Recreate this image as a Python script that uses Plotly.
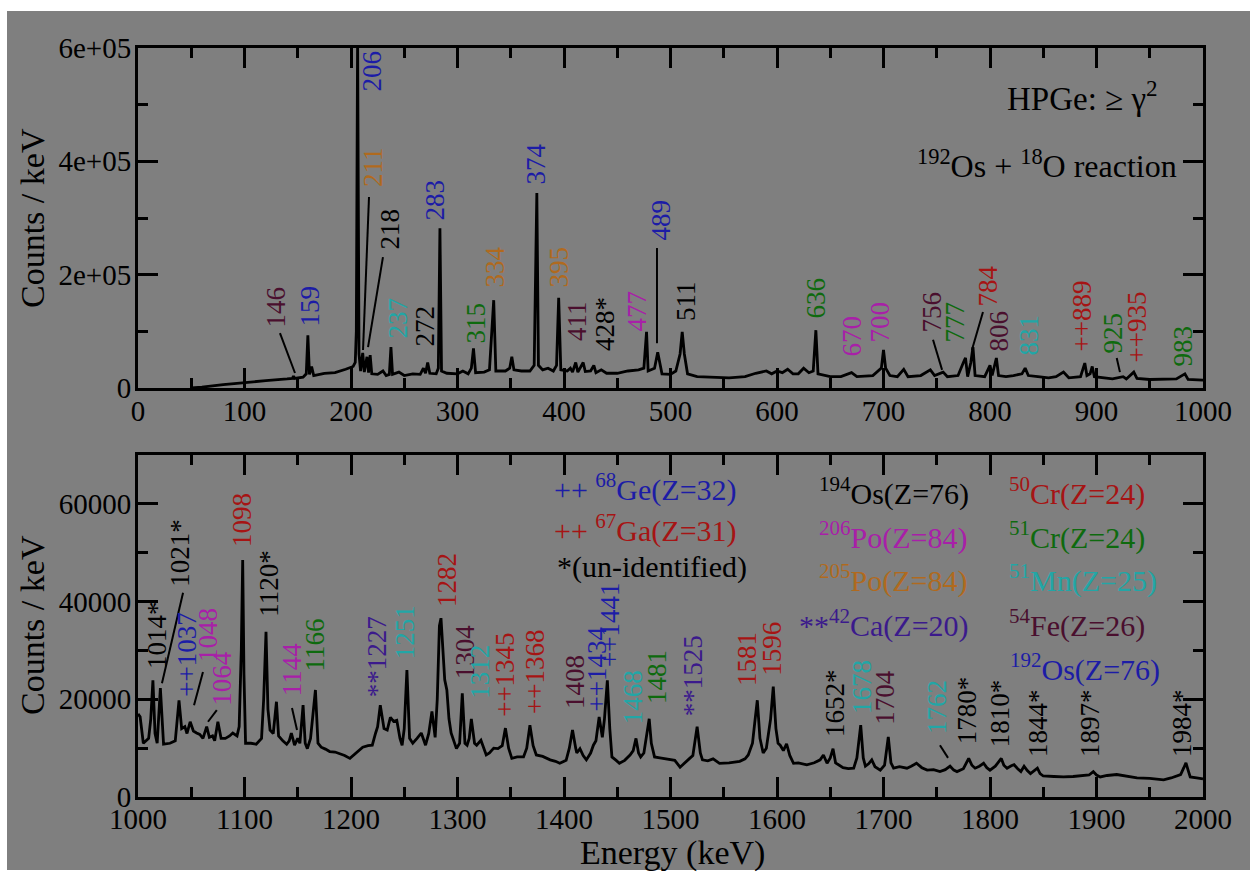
import plotly.graph_objects as go

# ---------------- data ----------------
# top panel spectrum (Energy keV, Counts/keV)
top_E = [50, 60, 80, 100, 120, 140, 145, 146, 147, 155, 158, 159.5, 161, 163, 165, 175, 185, 195, 202, 204, 205, 206.2, 207.5, 209, 211, 212.5, 215, 216.5, 218, 219.5, 225, 230, 233, 236, 237.5, 239, 245, 250, 258, 265, 268, 270, 272, 274, 280, 282, 283.5, 285, 290, 300, 305, 310, 313, 315, 317, 325, 330, 334, 336, 345, 349, 351, 353, 360, 368, 372, 374.5, 376, 380, 385, 390, 393, 395, 397, 403, 406, 408, 411, 413, 418, 420, 425, 428, 430, 435, 440, 450, 460, 470, 475, 477.5, 479, 485, 488, 490, 492, 500, 505, 509, 511, 513, 516, 525, 540, 555, 570, 580, 590, 595, 600, 605, 610, 615, 620, 625, 630, 634, 636.5, 638.5, 650, 660, 670, 675, 690, 698, 700, 702, 706, 713, 719, 723, 735, 744, 748, 752, 756, 760, 770, 775, 777, 779, 782, 784, 786, 795, 800, 802, 806, 808, 815, 822, 830, 833, 836, 845, 855, 862, 869, 874, 885, 889, 891, 894, 896, 898, 905, 915, 925, 928, 935, 938, 950, 965, 975, 983, 986, 1000]
top_C = [0, 1500, 6000, 10000, 13000, 16000, 17000, 21000, 17000, 19000, 25000, 93000, 24000, 38000, 22000, 26000, 27000, 33000, 38000, 45000, 100000, 620000, 60000, 30000, 62000, 28000, 55000, 27000, 58000, 25000, 24000, 30000, 22000, 24000, 72000, 24000, 28000, 22000, 25000, 24000, 35000, 26000, 45000, 26000, 25000, 35000, 282000, 30000, 26000, 25000, 30000, 25000, 35000, 70000, 27000, 28000, 32000, 155000, 30000, 30000, 35000, 55000, 32000, 30000, 30000, 40000, 344000, 40000, 32000, 35000, 30000, 40000, 159000, 32000, 30000, 35000, 28000, 45000, 28000, 45000, 29000, 30000, 40000, 27000, 32000, 26000, 26000, 30000, 32000, 35000, 99000, 30000, 35000, 63000, 45000, 25000, 24000, 30000, 60000, 99000, 60000, 25000, 20000, 19000, 18000, 20000, 26000, 30000, 25000, 30000, 27000, 33000, 25000, 25000, 35000, 27000, 30000, 102000, 25000, 20000, 20000, 27000, 20000, 22000, 35000, 67000, 35000, 22000, 20000, 33000, 20000, 22000, 32000, 22000, 25000, 28000, 20000, 22000, 45000, 53000, 20000, 45000, 72000, 22000, 20000, 40000, 22000, 53000, 22000, 20000, 22000, 25000, 35000, 22000, 20000, 18000, 20000, 28000, 18000, 20000, 44000, 22000, 25000, 38000, 20000, 18000, 16000, 20000, 16000, 28000, 17000, 15000, 15000, 16000, 25000, 15000, 14000]

# bottom panel spectrum
bot_E = [1000, 1002, 1005, 1010, 1012, 1014, 1016, 1018, 1021, 1024, 1030, 1035, 1038.5, 1041, 1044, 1046, 1049, 1052, 1055, 1058, 1061, 1064.5, 1067, 1070, 1072, 1075, 1078, 1082, 1086, 1089, 1093, 1095, 1097, 1098.3, 1099.5, 1101, 1106, 1111, 1116, 1118, 1120.2, 1122, 1124, 1127, 1130, 1132, 1136, 1139.6, 1142, 1144, 1147, 1150, 1152, 1155, 1157, 1159, 1162, 1166.6, 1169, 1172, 1176, 1180, 1185, 1189, 1194, 1199, 1204, 1211, 1216, 1220, 1223, 1225, 1227.5, 1231, 1234, 1237, 1240, 1243, 1246, 1248, 1250, 1252.5, 1255, 1258, 1262, 1266, 1270, 1273, 1276, 1279, 1281, 1283, 1284.5, 1286, 1288, 1290, 1292, 1294, 1297, 1299, 1302, 1304.5, 1307, 1309, 1311, 1313, 1316, 1318, 1322, 1325, 1327, 1330, 1334, 1338, 1342, 1345, 1348, 1351, 1356, 1362, 1365, 1368, 1371, 1374, 1380, 1387, 1392, 1396, 1402, 1405, 1408, 1411, 1412, 1415, 1418, 1421, 1425, 1427.6, 1430, 1433, 1436, 1438, 1440.7, 1443, 1445, 1449, 1452, 1457, 1462, 1465, 1467.6, 1470, 1472, 1475, 1477, 1480, 1482, 1485, 1490, 1495, 1499, 1504, 1509, 1514, 1518, 1521, 1525, 1528, 1530, 1535, 1540, 1546, 1555, 1565, 1570, 1573, 1577, 1579, 1581.5, 1584, 1587, 1590, 1594, 1596.5, 1599, 1601, 1603, 1606, 1609, 1612, 1615.5, 1620, 1628, 1635, 1640.5, 1643.6, 1647, 1650, 1652.6, 1655, 1658, 1662, 1667, 1672, 1675, 1678.6, 1681, 1683, 1686, 1689, 1692, 1697, 1701, 1704.5, 1707, 1709.5, 1715, 1722, 1726, 1731, 1736, 1741, 1747, 1753, 1758, 1762.5, 1766, 1769, 1775, 1780, 1783, 1786, 1790, 1794, 1797, 1800, 1805, 1810.6, 1813, 1816, 1820, 1822.6, 1826, 1829, 1832, 1835, 1838, 1841, 1844.5, 1847, 1850, 1860, 1869, 1878, 1888, 1893, 1897, 1900, 1903.5, 1910, 1919, 1928, 1938, 1950, 1963, 1970, 1975, 1979, 1982, 1984, 1986, 1988, 1994, 1999, 2000]
bot_C = [17000, 16400, 11000, 12000, 16000, 23900, 13000, 11000, 22300, 10800, 11000, 11500, 19800, 14000, 14400, 13000, 15400, 13500, 13100, 12800, 12000, 14400, 12200, 12500, 11500, 15400, 12000, 12000, 12500, 13100, 12500, 14400, 30000, 48500, 25000, 11000, 11000, 10800, 12000, 20000, 33800, 18000, 13700, 13000, 19500, 12500, 11500, 10800, 11500, 13100, 10600, 12000, 11000, 18800, 11000, 9900, 12000, 21900, 11000, 10200, 9800, 9300, 9200, 8900, 8500, 7900, 8800, 10200, 10500, 10600, 13000, 14400, 18800, 14000, 13700, 16300, 15500, 15700, 12000, 10600, 14000, 26000, 12000, 11000, 12000, 13100, 10600, 13000, 17500, 12200, 20000, 35000, 36600, 30000, 24000, 21900, 16000, 13100, 11000, 9900, 11000, 21200, 11000, 10600, 12000, 16000, 11000, 10600, 11600, 10000, 8600, 9000, 10000, 9900, 10500, 14100, 10000, 7900, 8200, 8200, 10000, 14700, 10500, 8600, 8300, 7600, 7300, 6900, 7500, 10000, 13700, 10000, 9000, 9900, 8500, 7600, 9000, 10600, 11500, 16400, 12200, 16000, 23900, 14000, 8200, 7500, 6900, 7500, 8600, 9500, 12000, 9000, 8200, 9000, 12000, 16000, 11000, 8200, 8000, 7800, 7600, 7500, 6100, 7200, 7900, 8500, 14400, 9000, 7600, 7400, 7800, 6900, 7000, 7300, 7800, 8600, 11000, 15000, 19800, 12000, 9000, 10000, 16000, 22600, 14000, 11000, 10600, 9500, 10900, 8500, 6900, 7000, 6600, 7000, 7600, 8600, 6900, 8000, 9900, 7000, 6600, 6000, 5800, 5900, 8000, 14700, 8000, 6300, 6800, 7600, 6200, 5500, 6500, 12300, 7000, 5900, 6200, 5900, 6300, 6900, 6000, 5500, 5600, 5200, 5600, 6300, 5500, 5200, 5800, 7900, 6500, 5900, 6300, 6900, 6000, 5500, 6300, 7900, 6500, 5900, 6400, 6600, 5800, 5200, 6300, 5400, 4800, 5300, 5900, 4800, 4300, 4200, 4100, 4200, 4300, 4500, 5200, 4500, 4100, 4400, 4600, 4200, 3900, 3800, 3500, 3900, 4300, 4600, 6000, 7000, 5500, 4100, 3900, 3700, 3700]

# tick labels
top_xticks = list(range(0, 1001, 100))
top_yticks = [0, 200000, 400000, 600000]
top_ytext = ["0", "2e+05", "4e+05", "6e+05"]
bot_xticks = list(range(1000, 2001, 100))
bot_yticks = [0, 20000, 40000, 60000]
bot_ytext = ["0", "20000", "40000", "60000"]

# peak labels: text, colour key, energy of label centre, counts at label bottom
top_lab_text = ["146", "159", "206", "211", "218", "237", "272", "283", "315", "334", "374", "395", "411", "428*", "477", "489", "511", "636", "670", "700", "756", "777", "784", "806", "831", "++889", "925", "++935", "983"]
top_lab_col = ["maroon", "blue", "blue", "orange", "black", "cyan", "black", "blue", "green", "orange", "blue", "orange", "maroon", "black", "magenta", "blue", "black", "green", "magenta", "magenta", "maroon", "green", "red", "maroon", "cyan", "red", "green", "red", "green"]
top_lab_E = [130.5, 161.5, 219.7, 220.7, 236.6, 243.2, 269.5, 278.9, 317.4, 334.3, 373.7, 395.3, 412.2, 438.5, 468.5, 491.1, 514.6, 635.7, 670.4, 696.7, 745.5, 767.1, 799.0, 808.5, 835.7, 886.4, 915.5, 938.0, 981.2]
top_lab_C = [105900, 105900, 522400, 353000, 243600, 84700, 70600, 293000, 75900, 174700, 358300, 176500, 81200, 63500, 98800, 257700, 116500, 120000, 54700, 79400, 97000, 79400, 143000, 61800, 54700, 61800, 58200, 44100, 37000]

bot_lab_text = ["1014*", "1021*", "++1037", "1048", "1064", "1098", "1120*", "1144", "1166", "**1227", "1251", "1282", "1304", "1312", "++1345", "++1368", "1408", "++1434", "++1441", "1468", "1481", "**1525", "1581", "1596", "1652*", "1678", "1704", "1762", "1780*", "1810*", "1844*", "1897*", "1984*"]
bot_lab_col = ["black", "black", "blue", "magenta", "magenta", "red", "black", "magenta", "green", "violet", "cyan", "red", "maroon", "cyan", "red", "red", "maroon", "blue", "blue", "cyan", "green", "violet", "red", "red", "black", "cyan", "maroon", "cyan", "black", "black", "black", "black", "black"]
bot_lab_E = [1017.8, 1039.4, 1046.0, 1065.7, 1078.9, 1097.7, 1123.0, 1144.6, 1166.2, 1224.4, 1250.7, 1290.1, 1307.0, 1321.1, 1344.6, 1372.8, 1410.3, 1431.0, 1443.2, 1464.8, 1487.3, 1521.1, 1571.8, 1595.3, 1654.5, 1679.8, 1701.4, 1750.2, 1778.4, 1809.4, 1845.1, 1893.9, 1980.3]
bot_lab_C = [26000, 42800, 20300, 27400, 18400, 51000, 36800, 20300, 25400, 20300, 28000, 38700, 24000, 19900, 16200, 16800, 17800, 17200, 26400, 14700, 18800, 16400, 22500, 24600, 12100, 16800, 14700, 12700, 10600, 10000, 8000, 8000, 8000]

# leader lines (E0, C0, E1, C1)
top_leaders = [(133.3, 97000, 147.4, 26500), (216.9, 337000, 211.3, 67000), (230.0, 231000, 216.0, 72000),
               (487.3, 247000, 487.3, 79000), (746.5, 85000, 755.0, 32000), (793.4, 134000, 783.0, 67000),
               (919.0, 53000, 922.0, 28000)]
bot_leaders = [(1042.3, 41800, 1022.5, 23300), (1061.0, 25600, 1052.6, 18800), (1074.0, 17800, 1065.7, 15400),
               (1144.6, 18200, 1149.3, 13700), (1753.0, 10600, 1760.6, 8000)]

# nuclide key
key_text = ["++ <sup>68</sup>Ge(Z=32)", "++ <sup>67</sup>Ga(Z=31)", "*(un-identified)",
            "<sup>194</sup>Os(Z=76)", "<sup>206</sup>Po(Z=84)", "<sup>205</sup>Po(Z=84)", "**<sup>42</sup>Ca(Z=20)",
            "<sup>50</sup>Cr(Z=24)", "<sup>51</sup>Cr(Z=24)", "<sup>51</sup>Mn(Z=25)", "<sup>54</sup>Fe(Z=26)", "<sup>192</sup>Os(Z=76)"]
key_col = ["blue", "red", "black", "black", "magenta", "orange", "violet", "red", "green", "cyan", "maroon", "blue"]

# ---------------- styling ----------------
W, H = 1250, 872
BG = "#7f7f7f"
FONT = "Liberation Serif"
COL = {"black": "#000000", "blue": "#1c1ca6", "orange": "#b06a1e", "magenta": "#a820a8",
       "cyan": "#22a6a6", "green": "#0e6a0e", "maroon": "#4a0f2e", "violet": "#3b1a8c", "red": "#a61414"}

def px_x(p):
    return p / W

def px_y(p):
    return 1 - p / H

XD = [px_x(138), px_x(1203)]
YD_TOP = [px_y(388), px_y(48)]
YD_BOT = [px_y(797), px_y(455)]

fig = go.Figure()
fig.add_trace(go.Scatter(x=top_E, y=top_C, mode="lines", line=dict(color="black", width=2.8),
                         xaxis="x", yaxis="y", showlegend=False, hoverinfo="skip"))
fig.add_trace(go.Scatter(x=bot_E, y=bot_C, mode="lines", line=dict(color="black", width=2.8),
                         xaxis="x2", yaxis="y2", showlegend=False, hoverinfo="skip"))

axis_common = dict(showline=True, linecolor="black", linewidth=3, mirror="allticks",
                   ticks="inside", ticklen=20, tickwidth=3, tickcolor="black",
                   showgrid=False, zeroline=False, automargin=False,
                   tickfont=dict(family=FONT, size=29, color="black"))

fig.update_layout(
    width=W, height=H, margin=dict(l=0, r=0, t=0, b=0, pad=0, autoexpand=False), autosize=False,
    paper_bgcolor="white", plot_bgcolor=BG, showlegend=False,
    xaxis=dict(domain=XD, anchor="y", range=[0, 1000], tickvals=top_xticks, ticklabelstandoff=-5,
               minor=dict(dtick=50, ticklen=10, tickwidth=3, tickcolor="black", ticks="inside"),
               **axis_common),
    yaxis=dict(domain=YD_TOP, anchor="x", range=[0, 600000], tickvals=top_yticks, ticktext=top_ytext,
               ticklabelstandoff=-2,
               minor=dict(dtick=100000, ticklen=10, tickwidth=3, tickcolor="black", ticks="inside"),
               **axis_common),
    xaxis2=dict(domain=XD, anchor="y2", range=[1000, 2000], tickvals=bot_xticks, ticklabelstandoff=-6,
                minor=dict(dtick=50, ticklen=10, tickwidth=3, tickcolor="black", ticks="inside"),
                **axis_common),
    yaxis2=dict(domain=YD_BOT, anchor="x2", range=[0, 70000], tickvals=bot_yticks, ticktext=bot_ytext,
                ticklabelstandoff=-2,
                minor=dict(dtick=10000, ticklen=10, tickwidth=3, tickcolor="black", ticks="inside"),
                **axis_common),
)

shapes = [dict(type="rect", xref="paper", yref="paper", x0=px_x(7), x1=1, y0=px_y(870), y1=px_y(11),
               fillcolor=BG, line=dict(width=0), layer="below")]
for (e0, c0, e1, c1) in top_leaders:
    shapes.append(dict(type="line", xref="x", yref="y", x0=e0, y0=c0, x1=e1, y1=c1,
                       line=dict(color="black", width=2)))
for (e0, c0, e1, c1) in bot_leaders:
    shapes.append(dict(type="line", xref="x2", yref="y2", x0=e0, y0=c0, x1=e1, y1=c1,
                       line=dict(color="black", width=2)))
fig.update_layout(shapes=shapes)

ann = []
for t, c, e, v in zip(top_lab_text, top_lab_col, top_lab_E, top_lab_C):
    ann.append(dict(text=t, x=e, y=v, xref="x", yref="y", showarrow=False, textangle=-90,
                    xanchor="center", yanchor="bottom", borderpad=0,
                    font=dict(family=FONT, size=27, color=COL[c])))
for t, c, e, v in zip(bot_lab_text, bot_lab_col, bot_lab_E, bot_lab_C):
    ann.append(dict(text=t, x=e, y=v, xref="x2", yref="y2", showarrow=False, textangle=-90,
                    xanchor="center", yanchor="bottom", borderpad=0,
                    font=dict(family=FONT, size=27, color=COL[c])))

key_pos = [(552, 487), (552, 528), (555, 567), (817, 492), (817, 535), (817, 578), (797, 623),
           (1007, 492), (1007, 535), (1007, 578), (1007, 623), (1008, 667)]
for t, c, (xp, yp) in zip(key_text, key_col, key_pos):
    ann.append(dict(text=t, x=px_x(xp), y=px_y(yp), xref="paper", yref="paper", showarrow=False,
                    xanchor="left", yanchor="middle", font=dict(family=FONT, size=30, color=COL[c])))

ann.append(dict(text="HPGe: ≥ γ<sup>2</sup>", x=px_x(1005), y=px_y(96), xref="paper", yref="paper",
                showarrow=False, xanchor="left", yanchor="middle", font=dict(family=FONT, size=33, color="black")))
ann.append(dict(text="<sup>192</sup>Os + <sup>18</sup>O reaction", x=px_x(915), y=px_y(164), xref="paper", yref="paper",
                showarrow=False, xanchor="left", yanchor="middle", font=dict(family=FONT, size=32, color="black")))

ann.append(dict(text="Counts / keV", x=px_x(32), y=px_y(218), xref="paper", yref="paper", showarrow=False,
                textangle=-90, xanchor="center", yanchor="middle", font=dict(family=FONT, size=34, color="black")))
ann.append(dict(text="Counts / keV", x=px_x(32), y=px_y(625), xref="paper", yref="paper", showarrow=False,
                textangle=-90, xanchor="center", yanchor="middle", font=dict(family=FONT, size=34, color="black")))
ann.append(dict(text="Energy (keV)", x=px_x(672), y=px_y(853), xref="paper", yref="paper", showarrow=False,
                xanchor="center", yanchor="middle", font=dict(family=FONT, size=34, color="black")))
fig.update_layout(annotations=ann)

fig.write_html("out.html", config={"responsive": False, "displayModeBar": False},
               post_script="document.body.style.margin='0';document.body.style.overflow='hidden';")
